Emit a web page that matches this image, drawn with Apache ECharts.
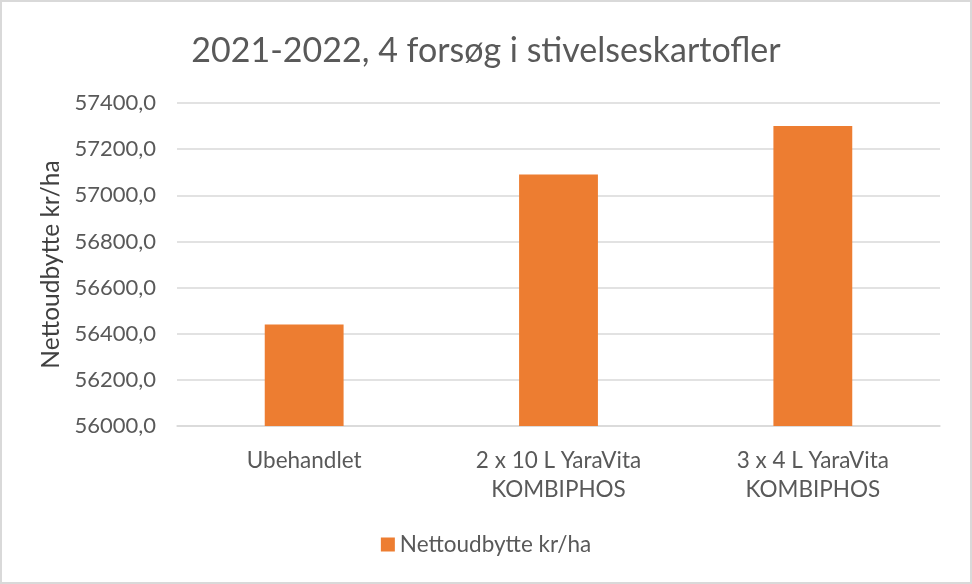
<!DOCTYPE html>
<html>
<head>
<meta charset="utf-8">
<script src="https://cdn.jsdelivr.net/npm/echarts@6/dist/echarts.min.js"></script>
<style>
html,body{margin:0;padding:0;background:#fff;}
#c{width:972px;height:584px;box-sizing:border-box;border:2px solid #d9d9d9;}
</style>
</head>
<body>
<div id="c"></div>
<script>
const titleText = '2021-2022, 4 forsøg i stivelseskartofler';
const categories = ['Ubehandlet', '2 x 10 L YaraVita\nKOMBIPHOS', '3 x 4 L YaraVita\nKOMBIPHOS'];
const seriesName = 'Nettoudbytte kr/ha';
const values = [56440, 57090, 57300];
const yMin = 56000, yMax = 57400, yStep = 200;

const font = 'Lato, "Open Sans", sans-serif';
const chart = echarts.init(document.getElementById('c'), null, {renderer: 'canvas'});
chart.setOption({
  animation: false,
  backgroundColor: '#fff',
  title: {
    text: titleText, left: 'center', top: 27,
    textStyle: {fontFamily: font, fontSize: 34, fontWeight: 'normal', color: '#595959'}
  },
  legend: {
    bottom: 21, left: 'center', itemWidth: 14, itemHeight: 14, itemGap: 8,
    icon: 'rect',
    textStyle: {fontFamily: font, fontSize: 22.5, color: '#595959'},
    data: [seriesName]
  },
  grid: {left: 175, right: 30, top: 101, bottom: 156, containLabel: false},
  xAxis: {
    type: 'category', data: categories,
    axisLine: {lineStyle: {color: '#d9d9d9', width: 1.5}},
    axisTick: {show: false},
    axisLabel: {fontFamily: font, fontSize: 22.5, color: '#595959', margin: 20, lineHeight: 29}
  },
  yAxis: {
    type: 'value', min: yMin, max: yMax, interval: yStep,
    name: seriesName, nameLocation: 'middle', nameGap: 109, nameRotate: 90,
    nameTextStyle: {fontFamily: font, fontSize: 24.5, color: '#404040'},
    axisLine: {show: false}, axisTick: {show: false},
    axisLabel: {fontFamily: font, fontSize: 22, color: '#595959', margin: 21,
      formatter: v => v.toFixed(1).replace('.', ',')},
    splitLine: {lineStyle: {color: '#d9d9d9', width: 1.5}}
  },
  series: [{
    name: seriesName, type: 'bar', data: values, barWidth: '31%',
    itemStyle: {color: '#ed7d31'}
  }]
});
</script>
</body>
</html>
